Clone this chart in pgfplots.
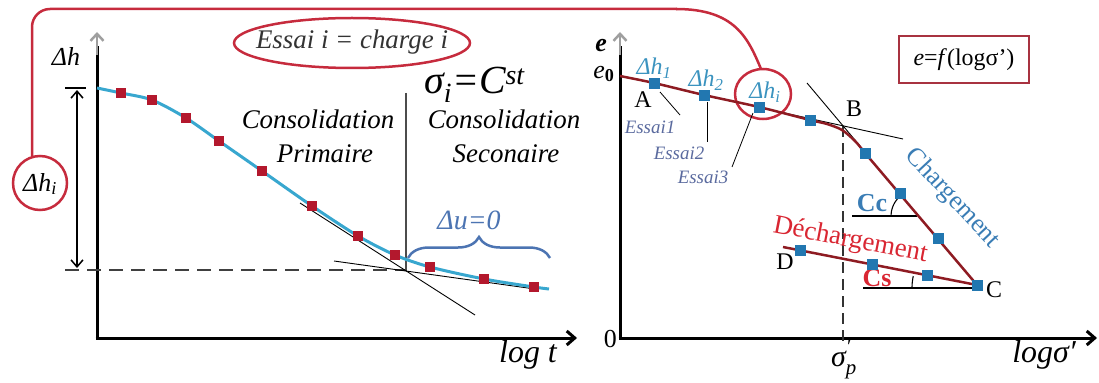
\documentclass[border=0pt]{standalone}
\usepackage{fontspec}
\setmainfont{Liberation Serif}[ItalicFont={Liberation Serif Italic},BoldFont={Liberation Serif Bold},BoldItalicFont={Liberation Serif Bold Italic}]
\usepackage{pgfplots}
\pgfplotsset{compat=1.18}
\usetikzlibrary{arrows.meta,decorations.pathreplacing}
\definecolor{cyanline}{HTML}{38A7CF}
\definecolor{redmark}{HTML}{B3182D}
\definecolor{darkredc}{HTML}{8E1B22}
\definecolor{bluemark}{HTML}{2277B0}
\definecolor{framered}{HTML}{C62B3D}
\definecolor{boxred}{HTML}{A83240}
\definecolor{dhblue}{HTML}{3B93BF}
\definecolor{essaicol}{HTML}{5A6A9E}
\definecolor{chblue}{HTML}{3A7DB5}
\definecolor{dechred}{HTML}{D92632}
\definecolor{braceblue}{HTML}{4C74B2}
\newcommand\fs[1]{\fontsize{#1}{#1}\selectfont}
\begin{document}
\begin{tikzpicture}
\useasboundingbox (0,0) rectangle (1099bp,383bp);
\begin{axis}[at={(0,0)},anchor=south west,width=1099bp,height=383bp,scale only axis,
  xmin=0,xmax=1099,ymin=0,ymax=383,y dir=reverse,hide axis,clip=false]
% ---------- red frame connecting the two panels
\draw[framered,line width=2.5bp,rounded corners=18bp] (axis cs:32,157) -- (axis cs:32,9) -- (axis cs:677,9);
\draw[framered,line width=2.5bp] (axis cs:676,9) .. controls (axis cs:735,9) and (axis cs:748,38) .. (axis cs:761,69);
\draw[framered,line width=2.5bp] (axis cs:40,183) circle[radius=27bp];
\draw[framered,line width=2.5bp] (axis cs:763,94) ellipse[x radius=28bp,y radius=25bp];
\draw[framered,line width=2.5bp] (axis cs:352,43) ellipse[x radius=118bp,y radius=25bp];
\node[text=black!80] at (axis cs:352,42) {\fs{27}\itshape Essai i = charge i};
\node at (axis cs:40,184) {\fs{26}\itshape Δh\textsubscript{i}};
% ---------- left panel axes
\draw[line width=3bp] (axis cs:97,339.5) -- (axis cs:97,46);
\draw[gray!75,line width=2.5bp,-{Straight Barb[length=7bp,width=13bp]}] (axis cs:97,55) -- (axis cs:97,32);
\draw[line width=3bp,-{Straight Barb[length=8bp,width=14bp]}] (axis cs:95.5,338) -- (axis cs:577,338);
\node at (axis cs:66,57) {\fs{26}\itshape Δh};
\node at (axis cs:528,355) {\fs{32}\itshape log t};
% double arrow and dashed level
\draw[line width=1.5bp] (axis cs:65,88) -- (axis cs:86,88);
\draw[line width=1.5bp,{Straight Barb[length=7bp,width=12bp]}-{Straight Barb[length=7bp,width=12bp]}] (axis cs:77,90) -- (axis cs:77,268);
\draw[black!75,line width=1.5bp,dash pattern=on 14bp off 8bp] (axis cs:65,270) -- (axis cs:406,270);
% vertical separator
\draw[black!70,line width=1.2bp] (axis cs:406,93) -- (axis cs:406,271);
% tangents
\addplot[black,line width=0.9bp,mark=none] coordinates {(334,261) (535,289)};
\addplot[black,line width=0.9bp,mark=none] coordinates {(300,203) (475,315)};
% consolidation curve
\addplot[cyanline,line width=3bp,smooth,mark=none] coordinates {
(97,88) (121,93) (152,100) (186,118) (219,141) (262,171) (312,206) (358,236) (395,255) (430,267) (484,279) (534,287) (549,289)};
\addplot[only marks,mark=square*,mark size=4.5bp,color=redmark] coordinates {
(121,93) (152,100) (186,118) (219,141) (262,171) (312,206) (358,236) (395,255) (430,267) (484,279) (534,287)};
% brace
\draw[braceblue,line width=2.5bp,decorate,decoration={brace,amplitude=21bp}] (axis cs:408,258) -- (axis cs:550,258);
\node[text=braceblue] at (axis cs:469,220) {\fs{28}\itshape Δu=0};
% texts
\node[anchor=base] at (axis cs:318,128) {\fs{27}\itshape Consolidation};
\node[anchor=base] at (axis cs:325,162) {\fs{27}\itshape Primaire};
\node[anchor=base] at (axis cs:504,128) {\fs{27}\itshape Consolidation};
\node[anchor=base] at (axis cs:506,162) {\fs{27}\itshape Seconaire};
\node[anchor=base west,inner sep=0pt] at (axis cs:424,93) {\fs{40}\itshape σ\textsubscript{i}=C\textsuperscript{st}};
% ---------- right panel axes
\draw[line width=3bp] (axis cs:620,339.5) -- (axis cs:620,46);
\draw[gray!75,line width=2.5bp,-{Straight Barb[length=7bp,width=13bp]}] (axis cs:620,55) -- (axis cs:620,32);
\draw[line width=3bp,-{Straight Barb[length=8bp,width=14bp]}] (axis cs:618.5,338) -- (axis cs:1097,338);
\node at (axis cs:601,46) {\fs{26}\bfseries\itshape e};
\node at (axis cs:604,74) {\fs{26}\itshape e\textsubscript{\bfseries\upshape 0}};
\node at (axis cs:607,339) {\fs{26} 0};
\node at (axis cs:1044,355) {\fs{32}\itshape logσ′};
\node[anchor=base west,inner sep=0pt] at (axis cs:831,366) {\fs{30}\itshape σ\makebox[0pt][l]{\raisebox{-0.3em}{\fs{21}p}}\raisebox{0.42em}{\fs{21}′}};
% dashed sigma_p
\draw[black!80,line width=1.3bp,dash pattern=on 11bp off 6bp] (axis cs:843,126) -- (axis cs:843,346);
% tangents at B
\addplot[black,line width=0.9bp,mark=none] coordinates {(807,83) (860,146)};
\addplot[black,line width=0.9bp,mark=none] coordinates {(780,112) (903,139)};
% Cc and Cs angle marks
\addplot[black,line width=1.1bp,mark=none] coordinates {(852,216) (917,216)};
\addplot[black,line width=1.1bp,mark=none,smooth] coordinates {(891,216) (891.4,211.5) (892.6,207.1) (894.5,203) (897.1,199.3) (900.3,196.1)};
\addplot[black,line width=1.1bp,mark=none] coordinates {(863,288) (977,288)};
\addplot[black,line width=1.1bp,mark=none,smooth] coordinates {(912,288) (912.2,283) (913.2,276)};
% e-log sigma curve
\addplot[darkredc,line width=2.5bp,smooth,mark=none] coordinates {
(620,76) (654,83) (704,95) (759,107) (810,120) (827,124) (842,130) (855,141) (865,153)};
\addplot[darkredc,line width=2.5bp,mark=none] coordinates {(865,153) (977,285)};
\addplot[darkredc,line width=2.5bp,mark=none] coordinates {(783,247) (977,285)};
\addplot[only marks,mark=square*,mark size=5bp,color=bluemark] coordinates {
(654,83) (704,95) (759,107) (810,120) (865,153) (900,193) (938,238) (977,285) (800,250) (872,264) (927,275)};
% leaders
\addplot[black,line width=0.8bp,mark=none] coordinates {(660,92) (680,115)};
\addplot[black,line width=0.8bp,mark=none] coordinates {(707,102) (707,142)};
\addplot[black,line width=0.8bp,mark=none] coordinates {(753,113) (732,167)};
% labels right
\node[text=dhblue] at (axis cs:654,68) {\fs{24}\itshape Δh\textsubscript{1}};
\node[text=dhblue] at (axis cs:706,80) {\fs{24}\itshape Δh\textsubscript{2}};
\node[text=dhblue] at (axis cs:765,92) {\fs{24}\itshape Δh\textsubscript{i}};
\node[text=essaicol] at (axis cs:650,127) {\fs{19}\itshape Essai1};
\node[text=essaicol] at (axis cs:679,153) {\fs{19}\itshape Essai2};
\node[text=essaicol] at (axis cs:703,177) {\fs{19}\itshape Essai3};
\node at (axis cs:640,100) {\fs{24} A};
\node at (axis cs:851,109) {\fs{24} B};
\node at (axis cs:991,290) {\fs{24} C};
\node at (axis cs:782,262) {\fs{24} D};
\node[text=chblue] at (axis cs:872,203) {\fs{26}\bfseries Cc};
\node[text=dechred] at (axis cs:877,278) {\fs{26}\bfseries Cs};
\node[text=chblue,rotate=-47] at (axis cs:950,196) {\fs{26} Chargement};
\node[text=dechred,rotate=-11] at (axis cs:847,240) {\fs{27} Déchargement};
\draw[boxred,line width=1.2bp] (axis cs:899,36) rectangle (axis cs:1029,83);
\node at (axis cs:964,60) {\fs{24}\textit{e}=\textit{f}(logσ’)};
\end{axis}
\end{tikzpicture}
\end{document}
